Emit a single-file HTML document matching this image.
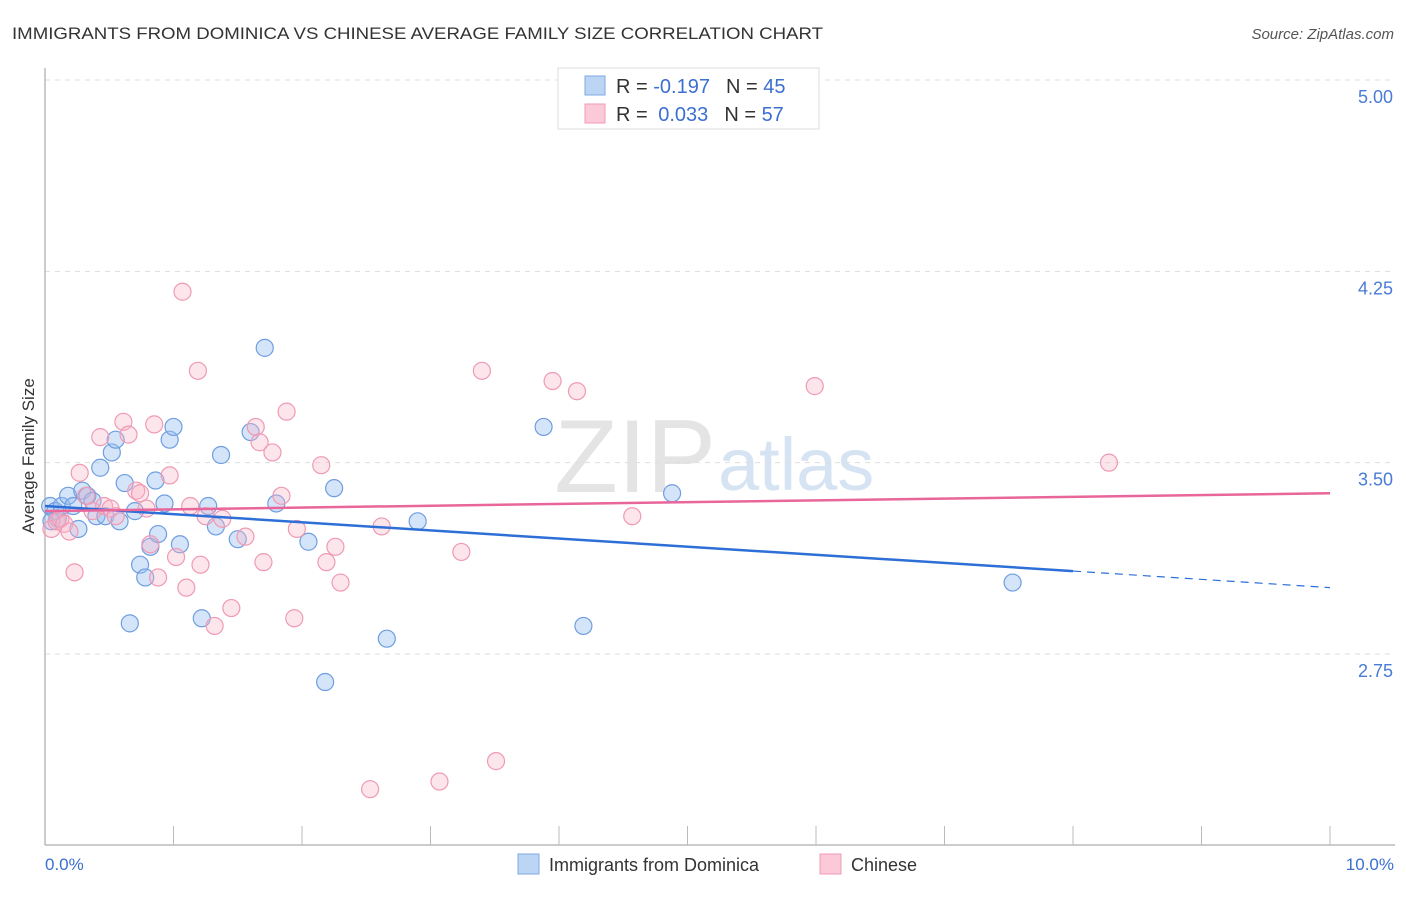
<!DOCTYPE html>
<html><head><meta charset="utf-8"><style>
body{margin:0;background:#fff;font-family:"Liberation Sans",sans-serif;}
svg text{font-family:"Liberation Sans",sans-serif;}
</style></head><body>
<svg id="chart" width="1406" height="892" xmlns="http://www.w3.org/2000/svg">
<text x="12" y="39" font-size="17" fill="#333" textLength="811" lengthAdjust="spacingAndGlyphs">IMMIGRANTS FROM DOMINICA VS CHINESE AVERAGE FAMILY SIZE CORRELATION CHART</text>
<text x="1394" y="39" font-size="15" fill="#555" font-style="italic" text-anchor="end">Source: ZipAtlas.com</text>
<text x="716" y="492" font-size="104" fill="#e4e4e4" text-anchor="end" font-family="Liberation Serif">ZIP</text>
<text x="718" y="490" font-size="74" fill="#d6e3f3">atlas</text>
<g id="grid"></g>
<line x1="45" y1="68" x2="45" y2="845" stroke="#bbb" stroke-width="1.5"/>
<line x1="45" y1="845" x2="1395" y2="845" stroke="#bbb" stroke-width="1.5"/>
<g id="ticks"></g>
<text transform="translate(34,456) rotate(-90)" font-size="17" fill="#333" text-anchor="middle">Average Family Size</text>
<text x="45" y="870" font-size="17" fill="#3b6fd0">0.0%</text>
<text x="1394" y="870" font-size="17" fill="#3b6fd0" text-anchor="end">10.0%</text>
<g id="pts"></g>
<g id="trends"></g>
<g>
<rect x="558" y="68" width="261" height="61" fill="#fff" stroke="#ddd"/>
<rect x="585" y="76" width="20" height="19" fill="#bcd5f5" stroke="#7fa8e4"/>
<rect x="585" y="104" width="20" height="19" fill="#fcc9d8" stroke="#f09ab4"/>
<text x="616" y="93" font-size="20" fill="#333">R = <tspan fill="#3b6fd0">-0.197</tspan><tspan dx="16">N = </tspan><tspan fill="#3b6fd0">45</tspan></text>
<text x="616" y="121" font-size="20" fill="#333">R = <tspan fill="#3b6fd0" dx="5">0.033</tspan><tspan dx="16">N = </tspan><tspan fill="#3b6fd0">57</tspan></text>
</g>
<g>
<rect x="518" y="854" width="21" height="20" fill="#bcd5f5" stroke="#7fa8e4"/>
<text x="549" y="871" font-size="18" fill="#333">Immigrants from Dominica</text>
<rect x="820" y="854" width="21" height="20" fill="#fcc9d8" stroke="#f09ab4"/>
<text x="851" y="871" font-size="18" fill="#333">Chinese</text>
</g>
</svg>
<script>
const yTicks=[5.00,4.25,3.50,2.75];
const blueX=[.04,.08,.10,.05,.13,.18,.22,.26,.29,.33,.37,.40,.43,.47,.52,.55,.58,.62,.66,.70,.74,.78,.82,.86,.88,.93,.97,1.00,1.05,1.22,1.27,1.33,1.37,1.50,1.60,1.71,1.80,2.05,2.18,2.25,2.66,2.90,3.88,4.19,4.88,7.53];
const blueY=[3.33,3.31,3.28,3.27,3.33,3.37,3.33,3.24,3.39,3.37,3.35,3.29,3.48,3.29,3.54,3.59,3.27,3.42,2.87,3.31,3.10,3.05,3.17,3.43,3.22,3.34,3.59,3.64,3.18,2.89,3.33,3.25,3.53,3.20,3.62,3.95,3.34,3.19,2.64,3.40,2.81,3.27,3.64,2.86,3.38,3.03];
const pinkX=[.05,.09,.12,.15,.19,.23,.27,.32,.37,.43,.46,.51,.55,.61,.65,.71,.74,.79,.82,.85,.88,.97,1.02,1.07,1.10,1.13,1.19,1.21,1.25,1.32,1.38,1.45,1.56,1.64,1.67,1.70,1.77,1.84,1.88,1.94,1.96,2.15,2.19,2.26,2.30,2.53,2.62,3.07,3.24,3.40,3.51,3.95,4.14,4.57,5.99,8.28];
const pinkY=[3.24,3.27,3.28,3.26,3.23,3.07,3.46,3.37,3.31,3.60,3.33,3.32,3.29,3.66,3.61,3.39,3.38,3.32,3.18,3.65,3.05,3.45,3.13,4.17,3.01,3.33,3.86,3.10,3.29,2.86,3.28,2.93,3.21,3.64,3.58,3.11,3.54,3.37,3.70,2.89,3.24,3.49,3.11,3.17,3.03,2.22,3.25,2.25,3.15,3.86,2.33,3.82,3.78,3.29,3.80,3.50];
const blueTrend=[3.33,3.075,3.01];
const pinkTrend=[3.31,3.38];
const X=v=>45+v*128.5, Y=v=>80+(5-v)*255.1;
const NS="http://www.w3.org/2000/svg";
function mk(tag,attrs,parent){const e=document.createElementNS(NS,tag);for(const k in attrs)e.setAttribute(k,attrs[k]);document.getElementById(parent).appendChild(e);return e;}
yTicks.forEach(t=>{
 const g=mk('line',{x1:45,x2:1395,y1:Y(t),y2:Y(t),stroke:'#ddd','stroke-dasharray':'5,5'},'grid');
 
 
 const l=mk('text',{x:1393,y:Y(t)+23,'font-size':18,fill:'#4a7bd6','text-anchor':'end'},'grid');
 l.textContent=t.toFixed(2);
 
 
});
for(let i=1;i<=10;i++){
 const t=mk('line',{x1:X(i),x2:X(i),y1:826,y2:845,stroke:'#bbb'},'ticks');
 
 
}
blueX.forEach((x,i)=>{
 const c=mk('circle',{cx:X(x),cy:Y(blueY[i]),r:8.5,fill:'rgba(150,190,240,0.4)',stroke:'#6f9ee0','stroke-width':1.2},'pts');
 
 
});
pinkX.forEach((x,i)=>{
 const c=mk('circle',{cx:X(x),cy:Y(pinkY[i]),r:8.5,fill:'rgba(250,180,200,0.35)',stroke:'#ef9ab4','stroke-width':1.2},'pts');
 
 
});
const b1=mk('line',{x1:X(0),y1:Y(blueTrend[0]),x2:X(8),y2:Y(blueTrend[1]),stroke:'#2d6fd6','stroke-width':2.5},'trends');


const b2=mk('line',{x1:X(8),y1:Y(blueTrend[1]),x2:X(10),y2:Y(blueTrend[2]),stroke:'#2d6fd6','stroke-width':1.2,'stroke-dasharray':'8,6'},'trends');


const p1=mk('line',{x1:X(0),y1:Y(pinkTrend[0]),x2:X(10),y2:Y(pinkTrend[1]),stroke:'#e8669a','stroke-width':2.5},'trends');


</script>
</body></html>
